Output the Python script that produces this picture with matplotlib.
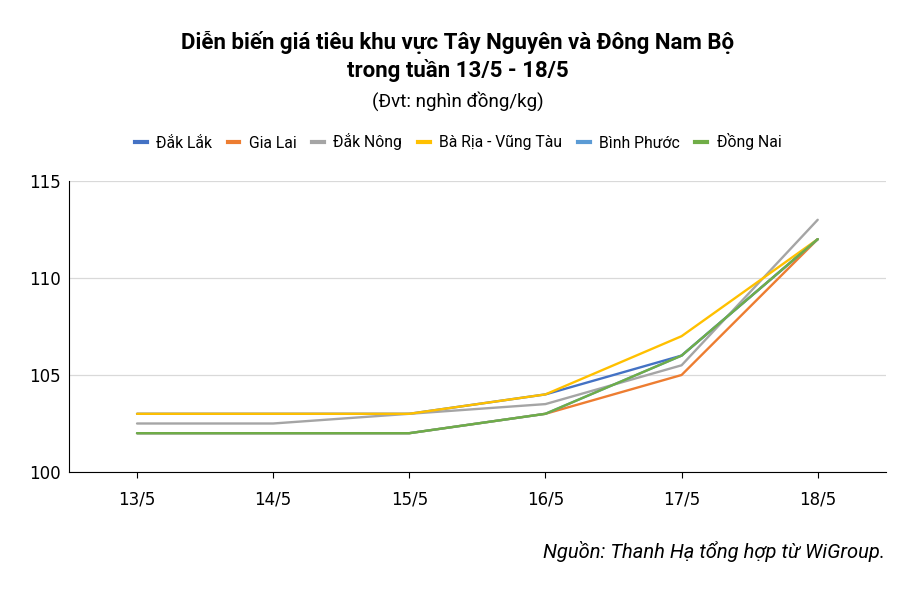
import matplotlib.pyplot as plt
from matplotlib.lines import Line2D

days = ["13/5", "14/5", "15/5", "16/5", "17/5", "18/5"]
dak_lak = [103, 103, 103, 104, 106, 112]
gia_lai = [102, 102, 102, 103, 105, 112]
dak_nong = [102.5, 102.5, 103, 103.5, 105.5, 113]
ba_ria = [103, 103, 103, 104, 107, 112]
binh_phuoc = [102, 102, 102, 103, 106, 112]
dong_nai = [102, 102, 102, 103, 106, 112]

names = ["Đắk Lắk", "Gia Lai", "Đắk Nông", "Bà Rịa - Vũng Tàu", "Bình Phước", "Đồng Nai"]
series = [dak_lak, gia_lai, dak_nong, ba_ria, binh_phuoc, dong_nai]
colors = ["#4472c4", "#ed7d31", "#a5a5a5", "#ffc000", "#5b9bd5", "#70ad47"]

plt.rcParams['font.family'] = ['Roboto', 'DejaVu Sans']

fig = plt.figure(figsize=(9.16, 5.94), dpi=100)
ax = fig.add_axes([0.0753, 0.2054, 0.8917, 0.4899])

x = range(len(days))
for vals, c in zip(series, colors):
    ax.plot(x, vals, color=c, lw=1.7, solid_capstyle='round', zorder=3)

ax.set_xlim(-0.5, 5.5)
ax.set_ylim(100, 115)
ax.set_yticks([100, 105, 110, 115])
ax.set_xticks(list(x))
ax.set_xticklabels(days)
ax.yaxis.grid(True, color="#d9d9d9", lw=0.9)
ax.set_axisbelow(True)
for s in ["top", "right"]:
    ax.spines[s].set_visible(False)
for s in ["bottom", "left"]:
    ax.spines[s].set_color("#000000")
    ax.spines[s].set_linewidth(0.8)
ax.tick_params(axis='both', labelsize=12, colors="#000000", labelfontfamily='DejaVu Sans')
ax.tick_params(axis='x', length=4, width=0.8, direction='out', pad=9)
ax.tick_params(axis='y', length=0, pad=6)

fig.text(0.5, 1 - 42 / 594, "Diễn biến giá tiêu khu vực Tây Nguyên và Đông Nam Bộ",
         ha='center', va='center', fontsize=16, fontweight='bold')
fig.text(0.5, 1 - 71 / 594, "trong tuần 13/5 - 18/5",
         ha='center', va='center', fontsize=16, fontweight='bold')
fig.text(0.5, 1 - 101 / 594, "(Đvt: nghìn đồng/kg)",
         ha='center', va='center', fontsize=13.5)

handles = [Line2D([0], [0], color=c, lw=3) for c in colors]
fig.legend(handles, names, loc='center', bbox_to_anchor=(0.5, 1 - 142 / 594), ncol=6,
           frameon=False, handlelength=0.75, handletextpad=0.6, columnspacing=1.0,
           prop={'size': 11.3})

fig.text(885 / 916, 1 - 551 / 594, "Nguồn: Thanh Hạ tổng hợp từ WiGroup.",
         ha='right', va='center', fontsize=14.5, style='italic')

fig.savefig("out.png", dpi=100, facecolor="white")
